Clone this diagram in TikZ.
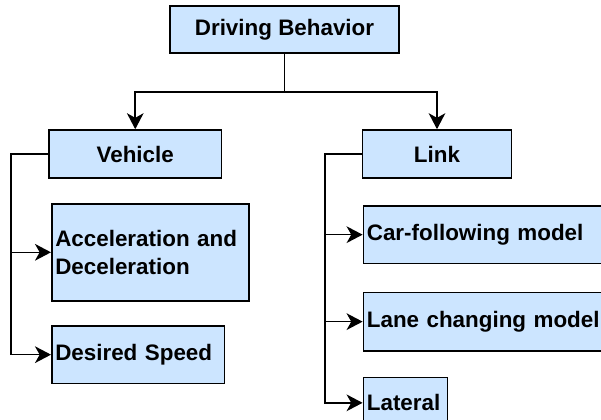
\documentclass[tikz,border=0pt]{standalone}
\usepackage{fontspec}
\setmainfont{Liberation Sans}
\usetikzlibrary{arrows.meta}

\definecolor{boxblue}{RGB}{204,229,255}

\begin{document}
\begin{tikzpicture}[x=0.75pt, y=-0.75pt,
  main node/.style={draw, fill=boxblue, line width=1.2pt, inner sep=0pt,
    font=\bfseries\fontsize{16.8}{21}\selectfont},
  leaf node/.style={main node, anchor=north west, align=left, inner xsep=2.6pt,
    text width=#1},
  arr/.style={-{Stealth[length=12pt, width=12.5pt, inset=3.5pt]}, line width=1.2pt}]
  \clip (0,0) rectangle (601,419);

  \node[main node, minimum width=171.75pt, minimum height=35.25pt] (behav) at (284.5,29.5) {Driving Behavior};

  \node[main node, minimum width=129.4pt, minimum height=36pt] (vehicle) at (135.25,154) {Vehicle};
  \node[main node, minimum width=111.75pt, minimum height=36pt] (link) at (437,154) {Link};

  \node[leaf node=142.5pt, minimum height=72.75pt] (accel) at (51,203) {Acceleration and\\Deceleration};
  \node[leaf node=124.2pt, minimum height=43.3pt] (speed) at (51,325) {Desired Speed};

  \node[leaf node=189.8pt, minimum height=43.3pt] (carfol) at (362.6,205) {Car-following model};
  \node[leaf node=189.8pt, minimum height=43.7pt] (lane) at (362.6,291.7) {Lane changing model};
  \node[leaf node=57.8pt, minimum height=38pt] (lateral) at (362.6,376.7) {Lateral};

  \coordinate (vbus) at (10.7,0);
  \coordinate (lbus) at (325,0);

  \draw[arr] (behav.south) -- ++(0,38.2) -| (vehicle.north);
  \draw[arr] (behav.south) -- ++(0,38.2) -| (link.north);

  \draw[arr] (vehicle.west) -| (vbus |- speed.west) -- (speed.west);
  \draw[arr] (vbus |- accel.west) -- (accel.west);

  \draw[arr] (link.west) -| (lbus |- lateral.west) -- (lateral.west);
  \draw[arr] (lbus |- carfol.west) -- (carfol.west);
  \draw[arr] (lbus |- lane.west) -- (lane.west);
\end{tikzpicture}
\end{document}
